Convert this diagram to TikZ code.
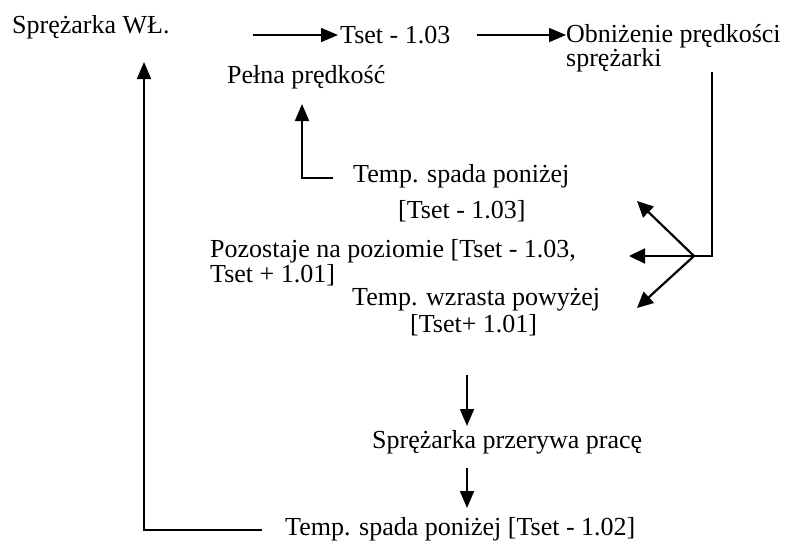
\documentclass[tikz,border=0pt]{standalone}
\usepackage{fontspec}
\setmainfont{Liberation Serif}
\usetikzlibrary{arrows.meta}
\begin{document}
\begin{tikzpicture}[x=1pt,y=-1pt,
  txt/.style={anchor=base west,inner sep=0pt,font=\fontsize{26}{26}\selectfont},
  arr/.style={line width=1.8pt,-{Triangle[length=17pt,width=14pt]}},
  ln/.style={line width=1.8pt},
  fk/.style={line width=2.2pt,-{Triangle[length=16pt,width=15pt]}}]
\useasboundingbox (0,0) rectangle (786,547);
% texts
\node[txt] (swl) at (12,33) {Sprężarka WŁ.};
\node[txt] (tset) at (340,43) {Tset - 1.03};
\node[txt] (obn1) at (566,42) {Obniżenie prędkości};
\node[txt] (obn2) at (566,66) {sprężarki};
\node[txt] (pelna) at (227,83) {Pełna prędkość};
\node[txt] (spada1) at (353,182) {Temp. spada poniżej};
\node[txt] (spada2) at (398,218) {[Tset - 1.03]};
\node[txt] (poz1) at (210,257) {Pozostaje na poziomie [Tset - 1.03,};
\node[txt] (poz2) at (210,282) {Tset + 1.01]};
\node[txt] (wzr1) at (352,305) {Temp. wzrasta powyżej};
\node[txt] (wzr2) at (410,332) {[Tset+ 1.01]};
\node[txt] (przer) at (372,448) {Sprężarka przerywa pracę};
\node[txt] (spada3) at (285,535) {Temp. spada poniżej [Tset - 1.02]};
% coordinates
\coordinate (a1s) at (253,35);
\coordinate (a1e) at (338,35);
\coordinate (a2s) at (477,35);
\coordinate (a2e) at (566,35);
\coordinate (rtop) at (712,72);
\coordinate (rbot) at (712,256);
\coordinate (fork) at (694,256);
\coordinate (fup) at (637,201);
\coordinate (fmid) at (629,256);
\coordinate (fdn) at (637,308);
\coordinate (pe) at (333,178);
\coordinate (pc) at (302,178);
\coordinate (pt) at (302,104);
\coordinate (d1s) at (467,375);
\coordinate (d1e) at (467,426);
\coordinate (d2s) at (467,468);
\coordinate (d2e) at (467,508);
\coordinate (be) at (262,530);
\coordinate (bc) at (144,530);
\coordinate (bt) at (144,62);
% connectors
\draw[arr] (a1s) -- (a1e);
\draw[arr] (a2s) -- (a2e);
\draw[ln] (rtop) -- (rbot) -- (fork);
\draw[fk] (fork) -- (fup);
\draw[fk] (fork) -- (fmid);
\draw[fk] (fork) -- (fdn);
\draw[arr] (pe) -- (pc) -- (pt);
\draw[arr] (d1s) -- (d1e);
\draw[arr] (d2s) -- (d2e);
\draw[arr] (be) -- (bc) -- (bt);
\end{tikzpicture}
\end{document}
